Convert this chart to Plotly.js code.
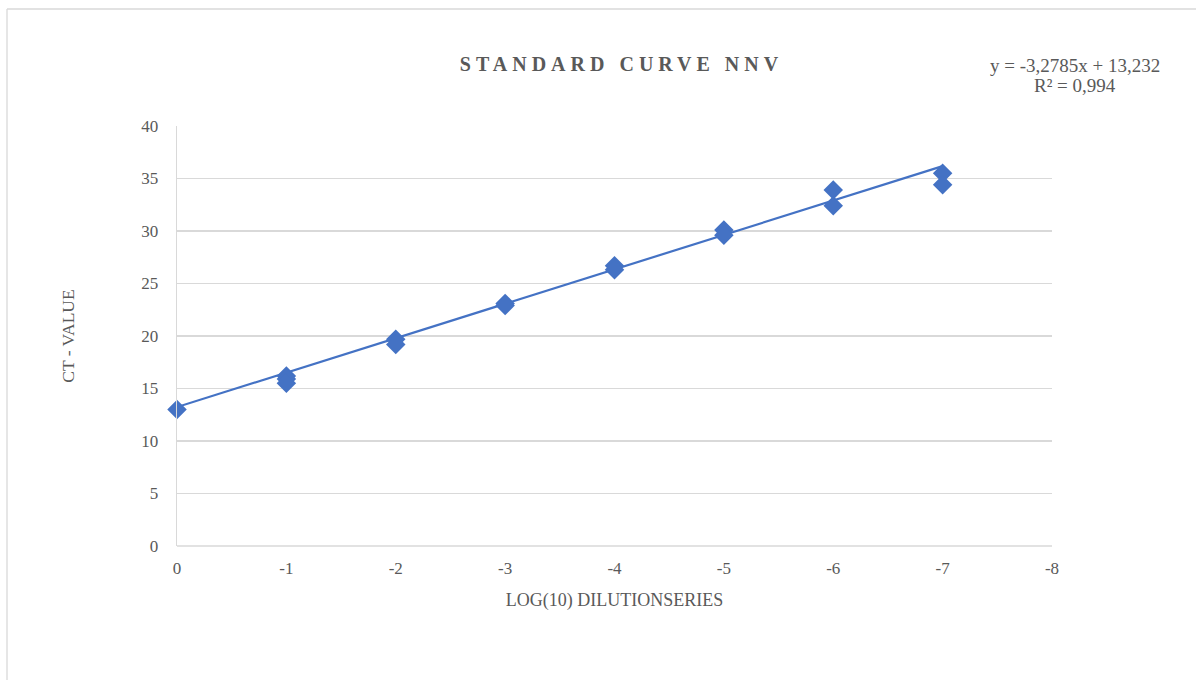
<!DOCTYPE html>
<html>
<head>
<meta charset="utf-8">
<script src="https://cdn.plot.ly/plotly-3.0.1.min.js"></script>
<style>
html,body{margin:0;padding:0;background:#fff;}
#chart{width:1202px;height:680px;}
</style>
</head>
<body>
<div id="chart"></div>
<script>
// Data
const dilutionLog = [0, -1, -1, -1, -2, -2, -3, -3, -4, -4, -5, -5, -6, -6, -7, -7];
const ctValues    = [13.0, 16.2, 15.9, 15.5, 19.7, 19.2, 23.1, 22.9, 26.7, 26.3, 30.1, 29.6, 33.9, 32.4, 35.5, 34.4];
const trendX = [0, -7];
const trendY = [13.232, 36.182];
const xTickVals = [0, -1, -2, -3, -4, -5, -6, -7, -8];
const xTickText = ["0", "-1", "-2", "-3", "-4", "-5", "-6", "-7", "-8"];
const yTickVals = [0, 5, 10, 15, 20, 25, 30, 35, 40];
const chartTitle = "STANDARD CURVE NNV";
const xTitle = "LOG(10) DILUTIONSERIES";
const yTitle = "CT - VALUE";
const equationLine = "y = -3,2785x + 13,232";
const r2Line = "R² = 0,994";

const blue = "#4472C4";
const grey = "#595959";
const font = "Liberation Serif";

const traces = [
  {
    x: trendX, y: trendY, type: "scatter", mode: "lines",
    line: {color: blue, width: 2.2}, hoverinfo: "skip", showlegend: false
  },
  {
    x: dilutionLog, y: ctValues, type: "scatter", mode: "markers",
    marker: {symbol: "diamond", size: 15, color: blue, line: {width: 0}},
    cliponaxis: false, hoverinfo: "x+y", showlegend: false
  }
];

const layout = {
  width: 1202, height: 680,
  margin: {l: 177, r: 150, t: 126, b: 134},
  paper_bgcolor: "#fff", plot_bgcolor: "#fff",
  font: {family: font, color: grey, size: 17},
  title: {
    text: "<b>" + chartTitle + "</b>",
    font: {family: font, size: 20, color: grey},
    x: 0.508, xref: "paper", xanchor: "center",
    y: 1 - 64/680, yref: "container", yanchor: "middle"
  },
  xaxis: {
    range: [0, -8], tickvals: xTickVals, ticktext: xTickText,
    showgrid: false, zeroline: false, showline: false,
    ticks: "", ticklabelstandoff: 10,
    tickfont: {family: font, size: 17, color: grey},
    title: {text: xTitle, font: {family: font, size: 18, color: grey}, standoff: 16},
    fixedrange: true
  },
  yaxis: {
    range: [0, 40], tickvals: yTickVals,
    showgrid: true, gridcolor: "#d9d9d9", gridwidth: 1.3,
    zeroline: false, showline: true, linecolor: "#d9d9d9", linewidth: 1.3,
    ticks: "", ticklabelstandoff: 14,
    tickfont: {family: font, size: 17, color: grey},
    title: {text: yTitle, font: {family: font, size: 17.5, color: grey}, standoff: 62},
    fixedrange: true
  },
  shapes: [
    {type: "line", xref: "paper", yref: "paper", x0: 0, x1: 1, y0: 0, y1: 0, line: {color: "#d9d9d9", width: 1.3}},
    {type: "line", xref: "paper", yref: "paper", x0: -170/875, x1: 1019/875, y0: (546-9)/420, y1: (546-9)/420, line: {color: "#d9d9d9", width: 1.3}},
    {type: "line", xref: "paper", yref: "paper", x0: -170/875, x1: -170/875, y0: (546-9)/420, y1: (546-700)/420, line: {color: "#d9d9d9", width: 1.3}}
  ],
  annotations: [
    {
      text: equationLine, xref: "paper", yref: "paper",
      x: (1075-177)/875, y: (546-65)/420, xanchor: "center", yanchor: "middle",
      showarrow: false, font: {family: font, size: 19, color: grey}
    },
    {
      text: r2Line, xref: "paper", yref: "paper",
      x: (1075-177)/875, y: (546-86)/420, xanchor: "center", yanchor: "middle",
      showarrow: false, font: {family: font, size: 19, color: grey}
    }
  ]
};

Plotly.newPlot("chart", traces, layout, {displayModeBar: false, staticPlot: true}).then(function(){
  document.querySelectorAll(".gtitle").forEach(function(t){ t.style.letterSpacing = "5px"; });
});
</script>
</body>
</html>
